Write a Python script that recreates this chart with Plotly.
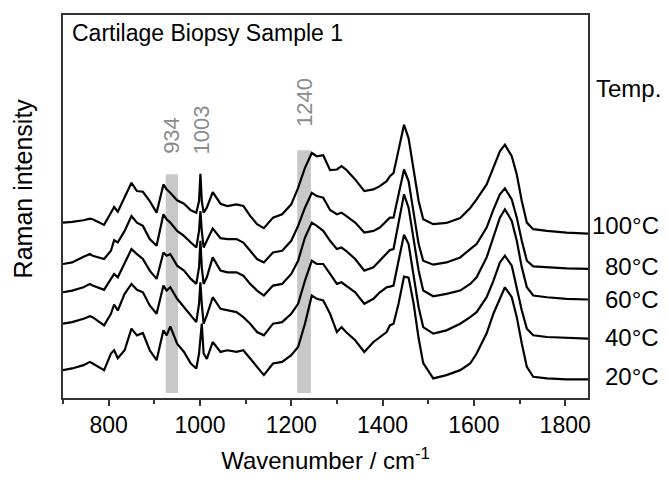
import plotly.graph_objects as go

# Wavenumber grid (cm^-1)
wavenumber = [700, 720, 745, 759, 765, 790, 805, 812, 820, 835, 850, 862, 875, 890, 905, 920, 927, 935, 950, 965,
              980, 992, 998, 1001, 1004, 1008, 1015, 1028, 1045, 1060, 1080, 1095, 1110, 1125, 1140, 1160, 1180, 1200,
              1215, 1230, 1245, 1256, 1270, 1285, 1300, 1310, 1320, 1340, 1360, 1380,
              1394, 1409, 1416, 1424, 1435, 1447, 1457, 1468, 1479, 1489, 1511, 1540, 1570, 1592, 1606, 1628, 1643,
              1657, 1668, 1683, 1694, 1705, 1716, 1730, 1760, 1803, 1850]

# Offset Raman intensities (arbitrary units), one list per temperature
t100 = [176.3, 177, 178.7, 180.3, 179.7, 174, 186.3, 192, 187.3, 201.3, 216.3, 208, 207.3, 198, 186.3, 214.7, 209.7,
        206.3, 198.7, 195.3, 188.7, 186.3, 198, 225.3, 198, 186.3, 191.3, 207, 195.3, 193, 194.7, 193, 183, 174.7,
        170.7, 181.3, 184.7, 194.7, 211.3, 231.3, 246.3, 243, 244, 229, 229.7, 233, 229.7, 219.7, 208, 209.7,
        213, 218, 223, 226, 248, 274.7, 261, 231, 198, 179.7, 174.7, 176, 181, 191, 199.7, 214.7, 231,
        248, 254.7, 243, 224.7, 198, 176.3, 169.7, 168, 166.3, 165.3]
t80 = [134.7, 136.3, 142, 144.7, 143, 139.7, 148, 158.7, 156.3, 168, 183, 176.3, 173, 159.7, 153, 184.7, 179.7,
       176.3, 168, 163, 156.3, 151.3, 168, 188, 168, 151.3, 158, 170.3, 160.7, 159.7, 159.7, 156.3, 148, 139.7,
       136.3, 146.3, 148, 158, 173, 191.3, 206.3, 203, 201.3, 189, 184.7, 186.3, 183, 176.3, 166.3, 168,
       171.3, 178, 181.3, 181.3, 204.7, 229.7, 218, 188, 154.7, 138, 134, 136.3, 141.3, 149.7, 154.7, 171.3, 189.7,
       204.7, 210.7, 199.7, 181.3, 158, 138, 132.3, 131.3, 130.3, 129.7]
t60 = [106.3, 108, 111.3, 114.7, 113, 108.7, 119.7, 124.7, 121.3, 134.7, 149.7, 144.7, 139.7, 128, 119.7, 146.3, 143,
       144.7, 133, 128, 119.7, 114.7, 131.3, 158, 131.3, 114.7, 121.3, 141.3, 128, 126.3, 126.3, 123, 114.7, 108,
       103, 113, 114.7, 124.7, 138, 161.3, 176.3, 173, 168, 158, 149.7, 151.3, 148, 139.7, 128, 131.3,
       138, 144.7, 148.7, 149.7, 174.7, 204.7, 191.3, 161.3, 128, 108, 102.3, 104.7, 108, 114.7, 121.3, 141.3, 161.3,
       181.3, 189.7, 178, 158, 131.3, 111.3, 103, 101.3, 99.7, 99]
t40 = [74.7, 76.3, 79.7, 82.3, 81.3, 73, 84.7, 94, 88, 104.7, 114.7, 108.7, 106.3, 93, 84.7, 113, 108,
       111.3, 99.7, 91.3, 83, 76.3, 94.7, 116.3, 94.7, 74.7, 83, 101.3, 89.7, 88, 86.3, 81.3, 74.7, 66.3,
       63, 74.7, 76.3, 84.7, 94.7, 118, 138, 134.7, 134.7, 124.7, 114.7, 116.3, 113, 106.3, 94.7, 99.7,
       106.3, 111.3, 112, 113, 138, 164, 154.7, 124.7, 91.3, 71.3, 64.7, 68, 74.7, 81.3, 86.3, 101.3, 118,
       136.3, 143, 133, 111.3, 88, 69.7, 63, 61.3, 60.3, 59.7]
t20 = [28, 29.7, 33, 36.3, 34.7, 28, 44.7, 48, 40, 48, 69.7, 63, 65.3, 48, 38, 68, 63,
       72, 54.7, 46.3, 34.7, 29.7, 44.7, 61.3, 74.7, 44.7, 39.3, 56.3, 46.3, 48, 46.3, 48, 39.7, 31.3,
       23, 34.7, 36.3, 43, 51.3, 74.7, 103, 99.7, 98, 84.7, 66.3, 71.3, 66.3, 58, 46.3, 56.3,
       61.3, 66.3, 73, 74.7, 94.7, 122, 121, 95, 60, 35, 19.7, 23, 28, 34.7, 44.7, 65, 85,
       100, 111.3, 101.3, 81.3, 54.7, 31.3, 21.3, 19.7, 18.7, 18.7]

series = [t100, t80, t60, t40, t20]
temp_labels = ["100°C", "80°C", "60°C", "40°C", "20°C"]
temp_label_y = [173, 132, 99, 61, 22]

# Highlighted bands
band_left = [925, 1213]
band_right = [952, 1243]
band_top = [225, 249]
band_bottom = 5
peak_labels = ["934", "1003", "1240"]
peak_label_x = [939, 1004, 1230]
peak_label_y = [243, 243, 271]

FONT = "Liberation Sans, Arial, sans-serif"

fig = go.Figure()
for ys in series:
    fig.add_trace(go.Scatter(x=wavenumber, y=ys, mode="lines",
                             line=dict(color="black", width=2.2), showlegend=False, hoverinfo="skip"))

for l, r, t in zip(band_left, band_right, band_top):
    fig.add_shape(type="rect", xref="x", yref="y", x0=l, x1=r, y0=band_bottom, y1=t,
                  fillcolor="#c8c8c8", line=dict(width=0), layer="below")

ann = []
for txt, x, y in zip(peak_labels, peak_label_x, peak_label_y):
    ann.append(dict(text=txt, x=x, y=y, xref="x", yref="y", textangle=-90, showarrow=False,
                    xanchor="center", yanchor="bottom", font=dict(family=FONT, size=22, color="#8c8c8c")))
for txt, y in zip(temp_labels, temp_label_y):
    ann.append(dict(text=txt, x=1.139, y=y, xref="paper", yref="y", showarrow=False,
                    xanchor="right", yanchor="middle", font=dict(family=FONT, size=24, color="black")))
ann.append(dict(text="Temp.", x=1.0114, y=311, xref="paper", yref="y", showarrow=False,
                xanchor="left", yanchor="middle", font=dict(family=FONT, size=24, color="black")))
ann.append(dict(text="Cartilage Biopsy Sample 1", x=0.0133, y=0.953, xref="paper", yref="paper",
                showarrow=False, xanchor="left", yanchor="middle", font=dict(family=FONT, size=23, color="black")))
ann.append(dict(text="Raman intensity", x=-0.0745, y=0.547, xref="paper", yref="paper", textangle=-90,
                showarrow=False, xanchor="center", yanchor="middle", borderpad=0,
                font=dict(family=FONT, size=25, color="black")))

fig.update_layout(
    width=660, height=471,
    margin=dict(l=55, r=80, t=5, b=81),
    paper_bgcolor="white", plot_bgcolor="white",
    annotations=ann,
    xaxis=dict(range=[700, 1850], tick0=800, dtick=200, ticks="outside", ticklen=6, tickwidth=1.5,
               tickcolor="#333", showline=True, linecolor="#333", linewidth=1.5, mirror=True,
               showgrid=False, zeroline=False,
               minor=dict(dtick=100, tick0=700, ticks="outside", ticklen=4, tickwidth=1.5, tickcolor="#333",
                          showgrid=False),
               tickfont=dict(family=FONT, size=23, color="black"),
               title=dict(text="Wavenumber / cm<sup>-1</sup>", font=dict(family=FONT, size=24, color="black"),
                          standoff=15)),
    yaxis=dict(range=[0, 385], showticklabels=False, ticks="", showline=True, linecolor="#333",
               linewidth=1.5, mirror=True, showgrid=False, zeroline=False),
)

fig.write_html("out.html")
